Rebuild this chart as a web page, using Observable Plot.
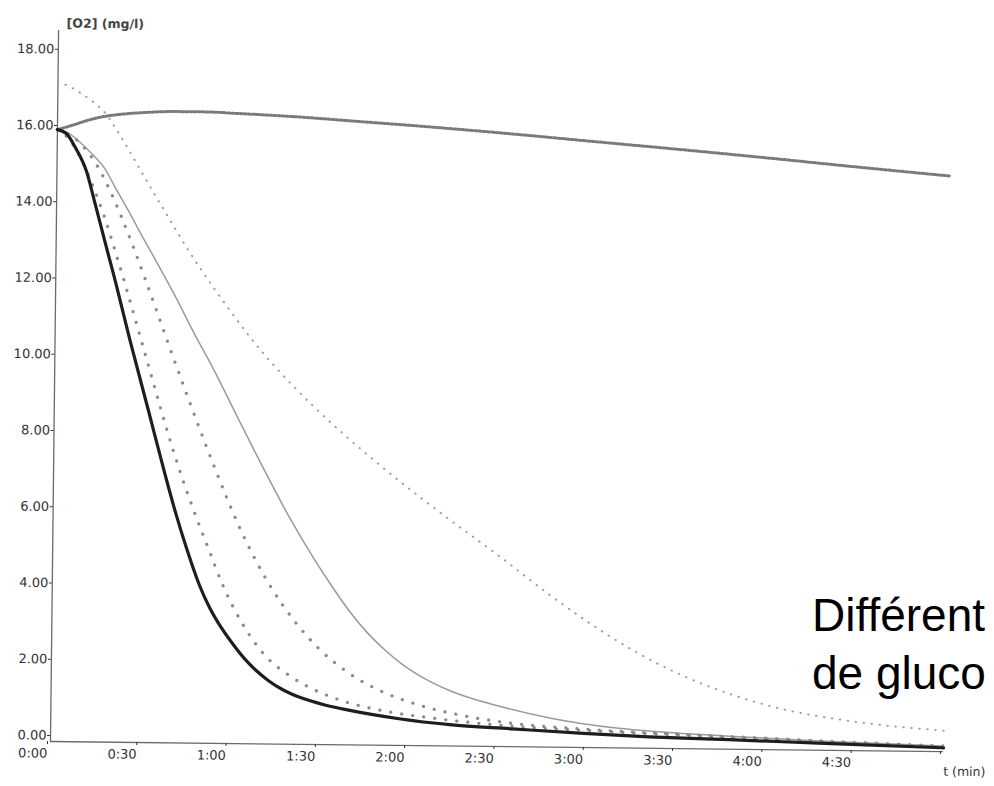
<!DOCTYPE html>
<html>
<head>
<meta charset="utf-8">
<script src="https://cdn.jsdelivr.net/npm/d3@7"></script>
<script src="https://cdn.jsdelivr.net/npm/@observablehq/plot@0.6"></script>
<style>
html,body{margin:0;padding:0;background:#fff;overflow:hidden;width:994px;height:786px}
#wrap{position:relative;width:994px;height:786px;overflow:hidden;background:#fff}
#note{position:absolute;left:812px;top:586px;font-family:"Liberation Sans",Arial,sans-serif;font-size:46px;line-height:58px;color:#000;white-space:nowrap}
</style>
</head>
<body>
<div id="wrap"><div id="chart"></div><div id="note">Différent<br>de gluco</div></div>
<script>
// ---- axis ticks / labels ----
const yTicks = [0, 2, 4, 6, 8, 10, 12, 14, 16, 18];
const yTickLabels = ["0.00", "2.00", "4.00", "6.00", "8.00", "10.00", "12.00", "14.00", "16.00", "18.00"];
const xTicks = [0, 30, 60, 90, 120, 150, 180, 210, 240, 270, 300];
const xTickLabels = ["0:00", "0:30", "1:00", "1:30", "2:00", "2:30", "3:00", "3:30", "4:00", "4:30", ""];
const yTitle = "[O2] (mg/l)";
const xTitle = "t (min)";

// ---- series (t in seconds, [O2] in mg/l) ----
// A: top curve (rises then slowly decreases)
const tA = [0, 5, 10, 15, 20, 30, 40, 50, 60, 80, 100, 120, 150, 180, 210, 240, 270, 300];
const vA = [16.05, 16.17, 16.3, 16.4, 16.46, 16.53, 16.56, 16.56, 16.53, 16.46, 16.36, 16.26, 16.09, 15.9, 15.71, 15.51, 15.3, 15.1];
// B: light dotted curve starting near 17.3
const tB = [0, 4, 8, 12, 16, 20, 24, 28, 32, 36, 40, 44, 49, 54, 60, 67, 77, 88, 98, 116, 133, 150, 167, 180, 195, 212, 228, 245, 268, 300];
const vB = [17.3, 17.18, 17.0, 16.78, 16.5, 16.05, 15.55, 15.02, 14.5, 13.99, 13.48, 12.98, 12.4, 11.85, 11.22, 10.52, 9.65, 8.8, 8.1, 6.95, 5.95, 5.0, 4.0, 3.3, 2.58, 1.92, 1.45, 1.08, 0.78, 0.55];
// C: thin solid grey curve
const tC = [0, 4, 8, 12, 16, 20, 24.5, 28, 33, 41, 46, 54, 62, 70, 80, 88, 94, 100, 106, 112, 118, 125, 134, 151, 168, 190, 212, 228, 260, 300];
const vC = [16.05, 15.95, 15.7, 15.4, 15.05, 14.5, 13.9, 13.4, 12.72, 11.6, 10.85, 9.72, 8.5, 7.3, 5.87, 4.85, 4.15, 3.5, 2.95, 2.5, 2.12, 1.78, 1.45, 1.05, 0.76, 0.52, 0.4, 0.34, 0.24, 0.15];
// D1: dotted curve next to the thick one
const tD1 = [0, 4, 8, 12, 16, 20, 24, 28, 32, 36, 40, 44, 48, 52, 57, 64, 72, 80, 88, 96, 112, 128, 151, 180, 210, 240, 270, 300];
const vD1 = [16.05, 15.8, 15.3, 14.6, 13.8, 12.85, 11.85, 10.8, 9.75, 8.7, 7.7, 6.78, 5.95, 5.17, 4.2, 3.15, 2.3, 1.8, 1.45, 1.2, 0.9, 0.73, 0.56, 0.45, 0.36, 0.28, 0.2, 0.13];
// D2: second dotted curve
const tD2 = [0, 5, 10, 14, 18, 22, 26, 30, 34, 38, 42, 46, 50, 54, 58, 63, 68, 74, 81, 90, 100, 110, 123, 140, 151, 180, 210, 240, 270, 300];
const vD2 = [16.05, 15.88, 15.5, 15.05, 14.45, 13.75, 12.98, 12.17, 11.33, 10.48, 9.65, 8.83, 8.03, 7.25, 6.5, 5.62, 4.85, 4.05, 3.28, 2.5, 1.88, 1.45, 1.08, 0.78, 0.65, 0.48, 0.38, 0.3, 0.22, 0.15];
// E: thick black curve
const tE = [0, 3, 6, 10, 13, 17, 20, 25, 31.5, 37.6, 41.3, 45, 49.4, 53, 57, 61, 65, 69, 73, 78, 84, 92, 100, 117, 134, 155, 179, 201, 228, 260, 300];
const vE = [16.05, 15.95, 15.6, 14.95, 14.1, 12.95, 12.1, 10.6, 8.75, 7.0, 6.0, 5.1, 4.15, 3.55, 3.03, 2.6, 2.22, 1.91, 1.66, 1.42, 1.22, 1.04, 0.91, 0.7, 0.56, 0.47, 0.37, 0.3, 0.25, 0.18, 0.1];

const toRows = (name, ts, vs) => ts.map((t, i) => ({s: name, t, v: vs[i]}));
const A = toRows("A", tA, vA);
const B = toRows("B", tB, vB);
const C = toRows("C", tC, vC);
const D1 = toRows("D1", tD1, vD1);
const D2 = toRows("D2", tD2, vD2);
const E = toRows("E", tE, vE);

const axisColor = "#6a6a6a";
const chart = Plot.plot({
  width: 994,
  height: 786,
  marginLeft: 50,
  marginRight: 51,
  marginTop: 30,
  marginBottom: 45,
  style: {fontFamily: "'DejaVu Sans', sans-serif", fontSize: "13px", color: "#333", background: "transparent"},
  x: {domain: [0, 300]},
  y: {domain: [0, 18.65]},
  marks: [
    Plot.ruleX([0], {y1: 0, y2: 18.65, stroke: axisColor, strokeWidth: 1.3}),
    Plot.ruleY([0], {x1: 0, x2: 300, stroke: axisColor, strokeWidth: 1.3}),
    Plot.axisY({ticks: yTicks, tickSize: 3, tickPadding: 1, dy: -6, label: null,
      tickFormat: (d) => yTickLabels[yTicks.indexOf(d)]}),
    Plot.axisX({ticks: xTicks, tickSize: 3, tickPadding: 4, textAnchor: "end", dx: -3, label: null,
      tickFormat: (d) => xTickLabels[xTicks.indexOf(d)]}),
    Plot.text([yTitle], {frameAnchor: "top-left", textAnchor: "start", dx: 8, dy: -12, fontSize: 12.5, fontWeight: "bold", fill: "#444"}),
    Plot.text([xTitle], {frameAnchor: "bottom-right", textAnchor: "start", dx: 0, dy: 24, fontSize: 12.5}),
    // curves
    Plot.line(B, {x: "t", y: "v", curve: "monotone-x", stroke: "#a0a0a0", strokeWidth: 2, strokeDasharray: "0.5,7.5", strokeLinecap: "round"}),
    Plot.line(C, {x: "t", y: "v", curve: "monotone-x", stroke: "#9a9a9a", strokeWidth: 1.5}),
    Plot.line(D2, {x: "t", y: "v", curve: "monotone-x", stroke: "#8a8a8a", strokeWidth: 3.2, strokeDasharray: "0.1,11", strokeLinecap: "round"}),
    Plot.line(D1, {x: "t", y: "v", curve: "monotone-x", stroke: "#8a8a8a", strokeWidth: 3.2, strokeDasharray: "0.1,11", strokeLinecap: "round"}),
    Plot.line(A, {x: "t", y: "v", curve: "monotone-x", stroke: "#7a7a7a", strokeWidth: 3, strokeDasharray: "2.2,2"}),
    Plot.line(E, {x: "t", y: "v", curve: "monotone-x", stroke: "#1e1e1e", strokeWidth: 3.2})
  ]
});
chart.style.transformOrigin = "50px 741px";
chart.style.transform = "rotate(0.65deg)";
document.getElementById("chart").appendChild(chart);
</script>
</body>
</html>
